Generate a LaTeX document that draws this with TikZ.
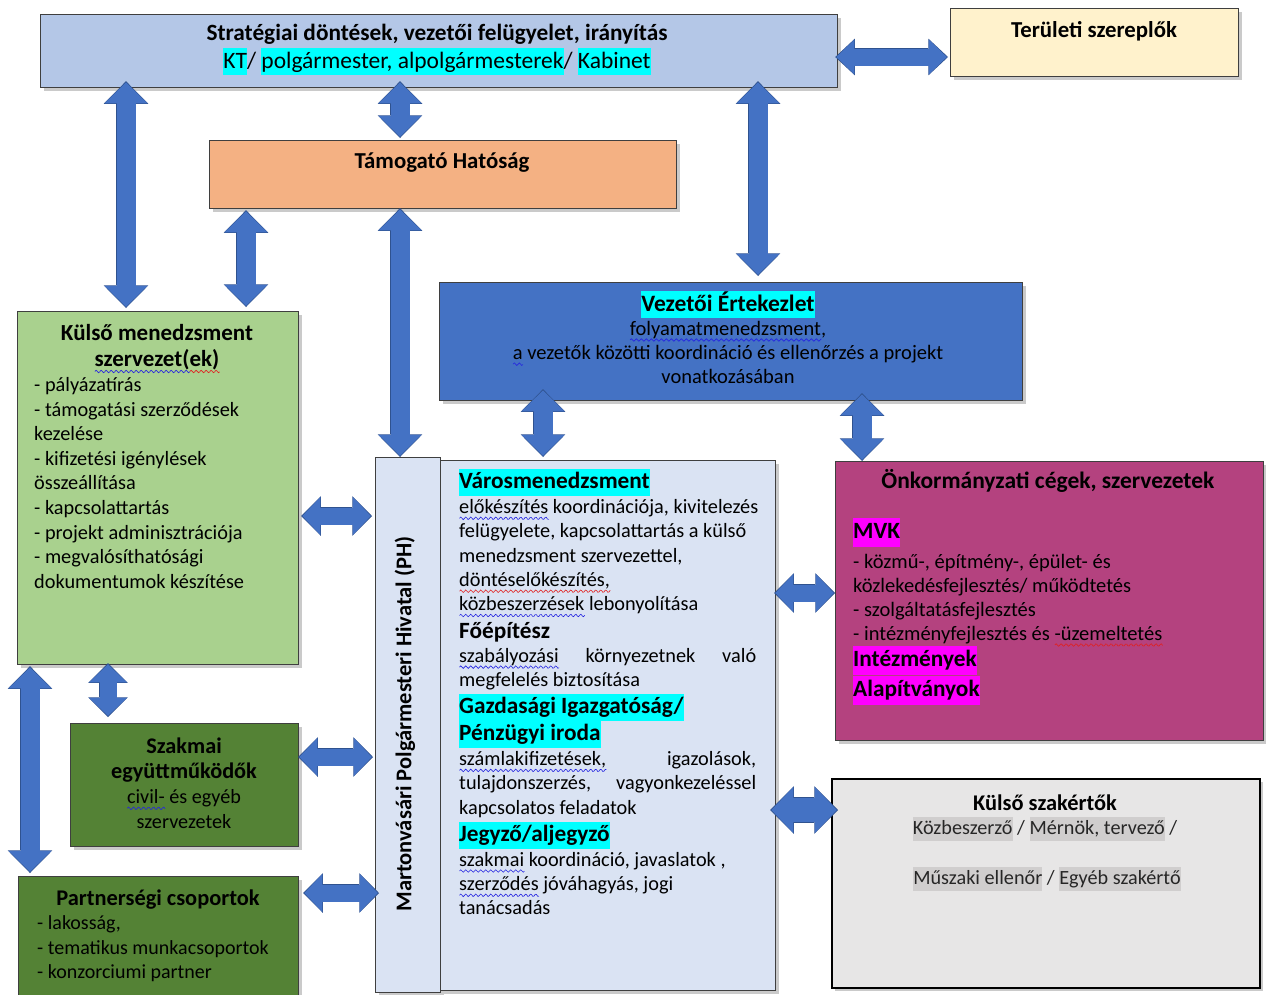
\documentclass[tikz,border=0pt]{standalone}
\usepackage{fontspec}
\setmainfont{Carlito}
\usetikzlibrary{arrows.meta,shadows}
\definecolor{topblue}{HTML}{B4C7E7}
\definecolor{terrc}{HTML}{FFF2CC}
\definecolor{tamog}{HTML}{F4B183}
\definecolor{vezblue}{HTML}{4472C4}
\definecolor{lgreen}{HTML}{A9D18E}
\definecolor{paleblue}{HTML}{DAE3F3}
\definecolor{onkm}{HTML}{B4427F}
\definecolor{lgray}{HTML}{E7E6E6}
\definecolor{dgreen}{HTML}{548235}
\definecolor{arrblue}{HTML}{4472C4}
\definecolor{arrdark}{HTML}{2F528F}
\definecolor{hcyan}{HTML}{00FFFF}
\definecolor{hmag}{HTML}{FF00FF}
\definecolor{hgray}{HTML}{D0CECE}
\definecolor{bordergray}{HTML}{3F3F3F}
\definecolor{textgray}{HTML}{262626}
\definecolor{wblue}{HTML}{2525E0}
\definecolor{wred}{HTML}{E02020}
\newcommand\fs[2]{\fontsize{#1}{#2}\selectfont}
\newcommand\nls{\lineskiplimit-100pt\relax}
\newcommand\hd{\fontsize{23.3}{24.3}\selectfont\bfseries}
\newcommand\hl[1]{{\setlength\fboxsep{0pt}\colorbox{hcyan}{#1\rule[-7pt]{0pt}{27pt}}}}
\newcommand\mhl[1]{{\setlength\fboxsep{0pt}\colorbox{hmag}{#1\rule[-8.5pt]{0pt}{29pt}}}}
\newcommand\ghl[1]{{\setlength\fboxsep{0pt}\colorbox{hgray}{#1\rule[-7pt]{0pt}{24pt}}}}
\newcommand\wv[2]{\leavevmode\setbox0=\hbox{#2}\pgfmathsetmacro\wvw{\wd0}\pgfmathtruncatemacro\wvn{\wd0/1.25+2}%
  \rlap{\tikz[baseline=0pt,x=1pt,y=1pt]\draw[#1,line width=0.6pt] plot[domain=0:\wvw,samples=\wvn] (\x,{-4.8+1.3*sin(\x*72)});}#2}
\newcommand\bwave[1]{\wv{wblue}{#1}}
\newcommand\rwave[1]{\wv{wred}{#1}}
\tikzset{
  box/.style={draw=bordergray, line width=1.2pt, inner sep=0pt, anchor=north west,
    drop shadow={shadow xshift=3pt,shadow yshift=-3pt,opacity=0.35,fill=black!60}},
  txt/.style={inner sep=0pt, align=left, anchor=north west},
  ctxt/.style={inner sep=0pt, align=center, anchor=north},
  lbl/.style={inner sep=0pt, anchor=base},
  varr/.style={draw=arrdark, line width=20.6pt,
    arrows={Triangle[width=44.6pt,length=22.6pt,line width=0pt]-Triangle[width=44.6pt,length=22.6pt,line width=0pt]},
    postaction={draw=arrblue, line width=19pt, shorten <=1.2pt, shorten >=1.2pt,
    arrows={Triangle[width=43pt,length=21pt,line width=0pt]-Triangle[width=43pt,length=21pt,line width=0pt]}}},
  harr/.style={draw=arrdark, line width=18.6pt,
    arrows={Triangle[width=39.6pt,length=19.6pt,line width=0pt]-Triangle[width=39.6pt,length=19.6pt,line width=0pt]},
    postaction={draw=arrblue, line width=17pt, shorten <=1.2pt, shorten >=1.2pt,
    arrows={Triangle[width=38pt,length=18pt,line width=0pt]-Triangle[width=38pt,length=18pt,line width=0pt]}}},
  sarr/.style={draw=arrdark, line width=18.6pt,
    arrows={Triangle[width=36.6pt,length=19.6pt,line width=0pt]-Triangle[width=36.6pt,length=19.6pt,line width=0pt]},
    postaction={draw=arrblue, line width=17pt, shorten <=1.2pt, shorten >=1.2pt,
    arrows={Triangle[width=35pt,length=18pt,line width=0pt]-Triangle[width=35pt,length=18pt,line width=0pt]}}},
  farr/.style={draw=arrdark, line width=25.6pt,
    arrows={Triangle[width=47.6pt,length=23.6pt,line width=0pt]-Triangle[width=47.6pt,length=23.6pt,line width=0pt]},
    postaction={draw=arrblue, line width=24pt, shorten <=1.2pt, shorten >=1.2pt,
    arrows={Triangle[width=46pt,length=22pt,line width=0pt]-Triangle[width=46pt,length=22pt,line width=0pt]}}},
}
\begin{document}
\begin{tikzpicture}[x=1pt,y=-1pt,font=\fs{20.3}{24.5}]
\useasboundingbox (0,0) rectangle (1266,994);
% boxes
\node[box, fill=topblue, minimum width=797pt, minimum height=73pt] (top) at (40,14) {};
\node[box, fill=terrc, minimum width=288pt, minimum height=68pt] (terr) at (950,8) {};
\node[box, fill=tamog, minimum width=467pt, minimum height=68pt] (tam) at (209,140) {};
\node[box, fill=vezblue, minimum width=583pt, minimum height=118pt] (vez) at (439,282) {};
\node[box, fill=lgreen, minimum width=281pt, minimum height=353pt] (kul) at (17,311) {};
\node[box, fill=paleblue, minimum width=65pt, minimum height=535pt] (mph) at (375,457) {};
\node[box, fill=paleblue, minimum width=335pt, minimum height=530pt] (var) at (440,460) {};
\node[box, fill=onkm, minimum width=428pt, minimum height=279pt] (onk) at (835,461) {};
\node[box, fill=lgray, draw=black, line width=2pt, minimum width=428pt, minimum height=209pt] (ksz) at (831,778) {};
\node[box, fill=dgreen, minimum width=228pt, minimum height=123pt] (szak) at (70,723) {};
\node[box, fill=dgreen, minimum width=280pt, minimum height=140pt] (part) at (18,876) {};
% arrows
\draw[varr] ([xshift=86pt,yshift=7pt]top.south west) -- ([xshift=109pt,yshift=3pt]kul.north west);
\draw[varr] ([xshift=360pt,yshift=7pt]top.south west) -- ([xshift=191pt,yshift=2pt]tam.north west);
\draw[varr] ([xshift=718pt,yshift=7pt]top.south west) -- ([xshift=319pt,yshift=6pt]vez.north west);
\draw[varr] ([xshift=37pt,yshift=-1pt]tam.south west) -- ([xshift=229pt,yshift=4pt]kul.north west);
\draw[varr] ([xshift=191pt,yshift=1pt]tam.south west) -- ([xshift=25pt]mph.north west);
\draw[sarr] ([xshift=-3pt,yshift=-43pt]top.north east) -- ([xshift=-2pt,yshift=-49pt]terr.north west);
\draw[varr] ([xshift=104pt,yshift=12pt]vez.south west) -- ([xshift=103pt,yshift=3pt]var.north west);
\draw[varr] ([xshift=423pt,yshift=8pt]vez.south west) -- ([xshift=27pt]onk.north west);
\draw[harr] ([xshift=2pt,yshift=-205pt]kul.north east) -- ([xshift=-3pt,yshift=-59pt]mph.north west);
\draw[harr] ([xshift=-2pt,yshift=-133pt]var.north east) -- ([yshift=-132pt]onk.north west);
\draw[harr] ([xshift=91pt,yshift=2pt]kul.south west) -- ([xshift=38pt,yshift=6pt]szak.north west);
\draw[varr] ([xshift=13pt,yshift=-1pt]kul.south west) -- ([xshift=12pt,yshift=3pt]part.north west);
\draw[harr] ([xshift=-1pt,yshift=-34pt]szak.north east) -- ([xshift=-2pt,yshift=-300pt]mph.north west);
\draw[harr] ([xshift=4pt,yshift=-17pt]part.north east) -- ([xshift=4pt,yshift=-436pt]mph.north west);
\draw[farr] ([xshift=-6pt,yshift=-350pt]var.north east) -- ([xshift=7pt,yshift=-32pt]ksz.north west);
% texts
\node[lbl, font=\fs{23.3}{28}\bfseries] (t1) at (437,40) {Stratégiai döntések, vezetői felügyelet, irányítás};
\node[lbl, font=\fs{23.5}{28}] (t2) at (437,68) {\hl{KT}/ \hl{polgármester, alpolgármesterek}/ \hl{Kabinet}};
\node[lbl, font=\fs{22.8}{28}\bfseries] (terrt) at (1094,37.5) {Területi szereplők};
\node[lbl, font=\fs{22.8}{28}\bfseries] (tamt) at (442,168) {Támogató Hatóság};
\node[lbl, font=\fs{23.5}{28}\bfseries] (vezh) at (728,311) {\hl{Vezetői Értekezlet}};
\node[ctxt, font=\fs{20.5}{24.2}\nls] (vezt) at (728,317) {\rule{0pt}{18pt}\bwave{folyamatmenedzsment},\\ \bwave{a} vezetők közötti koordináció és ellenőrzés a projekt\\ vonatkozásában};
\node[ctxt, font=\fs{23}{26.5}\bfseries\nls] (kult) at (157,320) {\rule{0pt}{20pt}Külső menedzsment\\ \bwave{szervezet(}\rwave{ek)}};
\node[txt, font=\fs{20.3}{24.55}\nls] (kuli) at (34,373.5) {\rule{0pt}{18pt}- pályázatírás\\- támogatási szerződések\\kezelése\\- kifizetési igénylések\\összeállítása\\- kapcsolattartás\\- projekt adminisztrációja\\- megvalósíthatósági\\dokumentumok készítése};
\node[rotate=90, inner sep=0pt, font=\fs{22.5}{26}\bfseries] (mpht) at (405,724) {Martonvásári Polgármesteri Hivatal (PH)};
\node[txt, font=\fs{20.3}{24.3}\nls] (vart) at (459,468.3) {%
\hl{\hd Városmenedzsment}\\[0.7pt]
\bwave{előkészítés} koordinációja, kivitelezés\\
felügyelete, kapcsolattartás a külső\\
menedzsment szervezettel,\\
\rwave{döntéselőkészítés,}\\
\bwave{közbeszerzések} lebonyolítása\\[3pt]
{\hd Főépítész}\\
\makebox[297pt][s]{\bwave{szabályozási} környezetnek való}\\
megfelelés biztosítása\\[3pt]
\hl{\hd Gazdasági Igazgatóság/}\\[2.4pt]
\hl{\hd Pénzügyi iroda}\\[0.7pt]
\makebox[297pt][s]{\bwave{számlakifizetések,} igazolások,}\\
\makebox[297pt][s]{tulajdonszerzés, vagyonkezeléssel}\\
kapcsolatos feladatok\\[3.4pt]
\hl{\hd Jegyző/aljegyző}\\
\bwave{szakmai} koordináció, javaslatok ,\\
\bwave{szerződés} jóváhagyás, jogi\\
tanácsadás};
\node[lbl, font=\fs{23.5}{28}\bfseries] (onkt) at (1048,488.3) {Önkormányzati cégek, szervezetek};
\node[txt, font=\fs{20.5}{23.9}\nls] (onki) at (853,517.8) {%
\mhl{\hd MVK}\\[6.1pt]
- közmű-, építmény-, épület- és\\
közlekedésfejlesztés/ működtetés\\
- szolgáltatásfejlesztés\\
- intézményfejlesztés és \rwave{-üzemeltetés}\\[2.8pt]
\mhl{\hd Intézmények}\\[5.4pt]
\mhl{\hd Alapítványok}};
\node[lbl, font=\fs{22.4}{28}\bfseries] (kszt) at (1045,810) {Külső szakértők};
\node[lbl, font=\fs{20.2}{24}, text=textgray] (ksz1) at (1045,834) {\ghl{Közbeszerző} / \ghl{Mérnök, tervező} /};
\node[lbl, font=\fs{20.2}{24}, text=textgray] (ksz2) at (1047,884) {\ghl{Műszaki ellenőr} / \ghl{Egyéb szakértő}};
\node[ctxt, font=\fs{20.2}{25}\nls] (szakt) at (184,733.3) {\rule{0pt}{20pt}{\fs{22.3}{25}\bfseries Szakmai}\\ {\fs{22.3}{25}\bfseries együttműködők}\\ \bwave{civil-} és egyéb\\ szervezetek};
\node[lbl, font=\fs{22.4}{28}\bfseries] (partt) at (158,905) {Partnerségi csoportok};
\node[txt, font=\fs{20}{24.5}\nls] (parti) at (37,911.3) {\rule{0pt}{18pt}- lakosság,\\- tematikus munkacsoportok\\- konzorciumi partner};
\end{tikzpicture}
\end{document}
